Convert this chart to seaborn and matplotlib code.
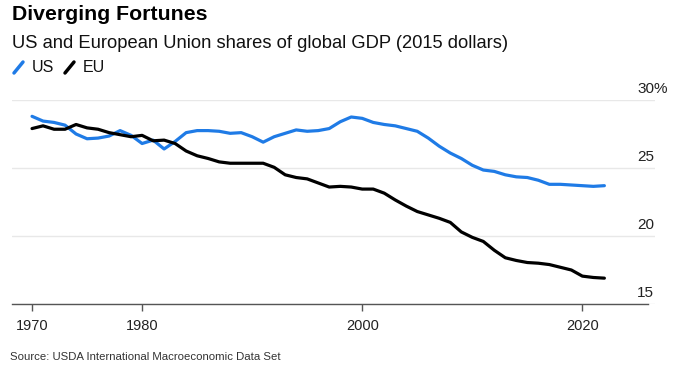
import matplotlib
matplotlib.use("Agg")
import matplotlib.pyplot as plt
from matplotlib.lines import Line2D
import seaborn as sns
import pandas as pd

years = list(range(1970, 2023))
us = [28.8, 28.45, 28.35, 28.15, 27.5, 27.15, 27.2, 27.35, 27.75, 27.4,
      26.8, 27.05, 26.4, 26.95, 27.6, 27.75, 27.75, 27.7, 27.55, 27.6,
      27.3, 26.9, 27.3, 27.55, 27.8, 27.7, 27.75, 27.9, 28.4, 28.75,
      28.65, 28.35, 28.2, 28.1, 27.9, 27.7, 27.2, 26.6, 26.1, 25.7,
      25.2, 24.85, 24.75, 24.5, 24.35, 24.3, 24.1, 23.8, 23.8, 23.75,
      23.7, 23.65, 23.7]
eu = [27.9, 28.1, 27.85, 27.85, 28.2, 27.95, 27.85, 27.6, 27.45, 27.3,
      27.4, 27.0, 27.05, 26.8, 26.25, 25.9, 25.7, 25.45, 25.35, 25.35,
      25.35, 25.35, 25.05, 24.5, 24.3, 24.2, 23.9, 23.6, 23.65, 23.6,
      23.45, 23.45, 23.15, 22.65, 22.2, 21.8, 21.55, 21.3, 21.0, 20.3,
      19.9, 19.6, 18.95, 18.4, 18.2, 18.05, 18.0, 17.9, 17.7, 17.5,
      17.05, 16.95, 16.9]
series_names = ["US", "EU"]
x_ticks = [1970, 1980, 2000, 2020]
y_ticks = [15, 20, 25, 30]
y_tick_labels = ["15", "20", "25", "30%"]

title = "Diverging Fortunes"
subtitle = "US and European Union shares of global GDP (2015 dollars)"
source = "Source: USDA International Macroeconomic Data Set"

BLUE = "#1f7be6"
BLACK = "#000000"

df = pd.DataFrame({
    "year": years * 2,
    "share": us + eu,
    "series": ["US"] * len(years) + ["EU"] * len(years),
})

sns.set_theme(style="white")
plt.rcParams["font.family"] = ["Liberation Sans", "DejaVu Sans"]

fig = plt.figure(figsize=(6.8, 3.76), dpi=100)
ax = fig.add_axes([12 / 680, 1 - 304 / 376, (655 - 12) / 680, (304 - 100) / 376])

sns.lineplot(data=df, x="year", y="share", hue="series", hue_order=series_names,
             palette={"US": BLUE, "EU": BLACK}, linewidth=2.3, legend=False, ax=ax)

ax.set_xlim(1968.18, 2026.6)
ax.set_ylim(15, 30)
ax.set_xlabel("")
ax.set_ylabel("")
for s in ["top", "right", "left"]:
    ax.spines[s].set_visible(False)
ax.spines["bottom"].set_color("#555555")
ax.spines["bottom"].set_linewidth(1.0)
ax.spines["bottom"].set_bounds(1968.18, 2026.0)

ax.set_xticks(x_ticks)
ax.set_xticklabels([str(t) for t in x_ticks], fontsize=10.5, color="#222222")
ax.tick_params(axis="x", direction="out", length=5, width=1, color="#555555", pad=6, bottom=True)

ax.set_yticks(y_ticks)
ax.set_yticklabels([])
ax.tick_params(axis="y", length=0)
ax.grid(axis="y", color="#e8e8e8", linewidth=1)
ax.grid(axis="x", visible=False)
for t, lab in zip(y_ticks, y_tick_labels):
    ax.annotate(lab, xy=(1.0, t), xycoords=ax.get_yaxis_transform(),
                xytext=(-18, 4), textcoords="offset pixels",
                ha="left", va="bottom", fontsize=11, color="#222222")

fig.text(12 / 680, 1 - 14 / 376, title, fontsize=15.3, fontweight="bold",
         va="center", ha="left", color="#000000")
fig.text(12 / 680, 1 - 43 / 376, subtitle, fontsize=13.2,
         va="center", ha="left", color="#111111")

# legend
for x0, col, name in [(14, BLUE, "US"), (65, BLACK, "EU")]:
    fig.add_artist(Line2D([x0 / 680, (x0 + 9) / 680],
                          [1 - 73 / 376, 1 - 62 / 376],
                          color=col, linewidth=2.5, transform=fig.transFigure))
    fig.text((x0 + 18) / 680, 1 - 68 / 376, name, fontsize=11.5,
             va="center", ha="left", color="#111111")

fig.text(10 / 680, 1 - 357 / 376, source, fontsize=8.2, va="center", ha="left",
         color="#333333")

fig.savefig("out.png", dpi=100, facecolor="white")
